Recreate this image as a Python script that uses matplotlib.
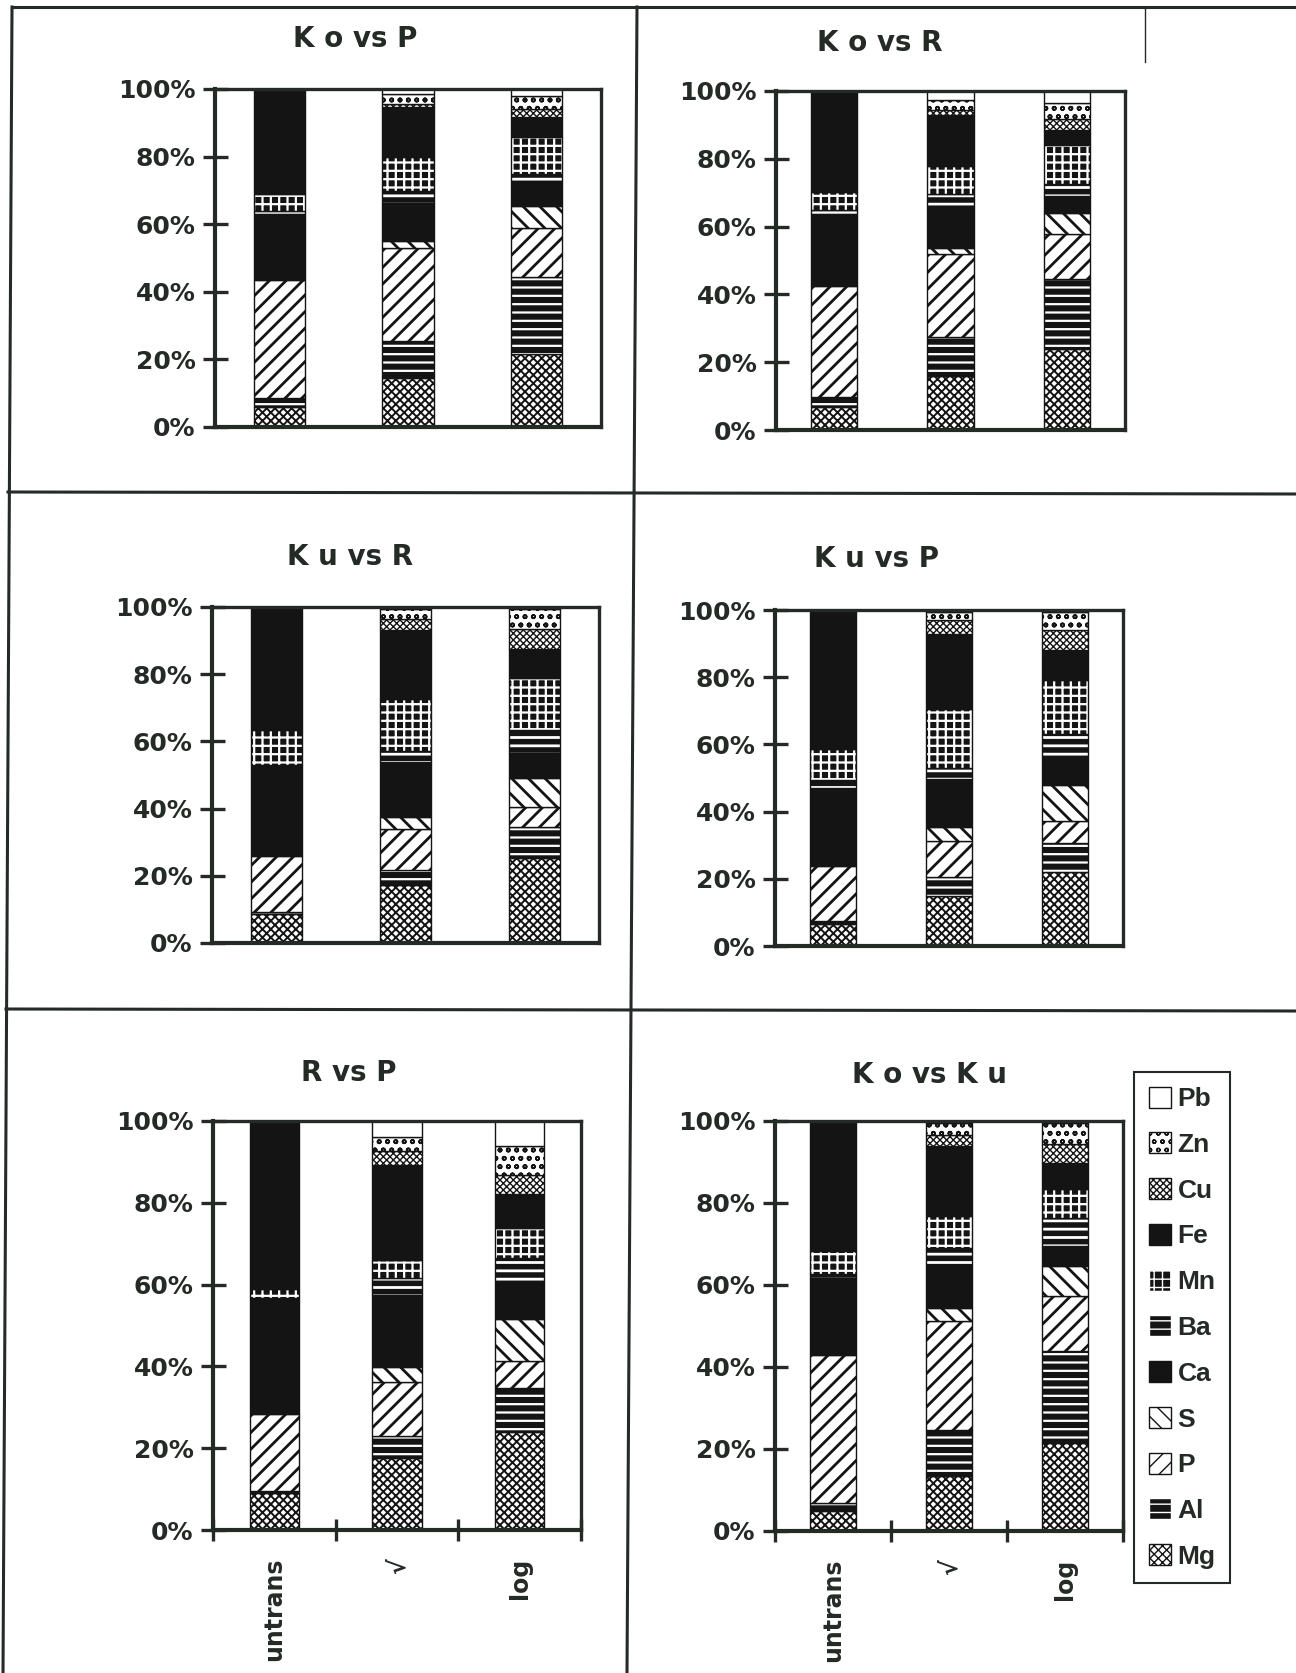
import matplotlib
matplotlib.use('Agg')
import matplotlib.pyplot as plt
from matplotlib.patches import Patch
from matplotlib.lines import Line2D
import numpy as np

W, H = 1296, 1673
INK = '#242a25'
BLK = '#141414'

elements = ['Mg', 'Al', 'P', 'S', 'Ca', 'Ba', 'Mn', 'Fe', 'Cu', 'Zn', 'Pb']
transforms = ['untrans', '√', 'log']

# percentage share of each element, rows = untrans / sqrt / log
ko_vs_p = [[6.0, 2.5, 35.0, 0, 19.5, 1.0, 5.0, 31.0, 0, 0, 0],
           [14.4, 11.1, 27.6, 1.9, 11.4, 3.5, 9.9, 15.0, 0.8, 2.8, 1.6],
           [21.5, 22.9, 14.6, 6.3, 5.9, 3.6, 11.1, 5.7, 2.5, 3.9, 2.0]]
ko_vs_r = [[6.9, 2.9, 32.8, 0, 21.2, 1.2, 5.2, 29.8, 0, 0, 0],
           [16.0, 11.4, 24.6, 1.7, 12.5, 3.5, 8.3, 14.8, 1.7, 2.9, 2.6],
           [23.9, 20.7, 13.3, 6.1, 4.9, 3.7, 11.4, 4.4, 3.2, 4.9, 3.5]]
ku_vs_r = [[8.5, 0.8, 16.7, 0, 25.7, 1.3, 10.5, 36.5, 0, 0, 0],
           [17.3, 4.4, 12.3, 3.5, 16.5, 3.0, 15.5, 20.8, 3.2, 3.0, 0.5],
           [25.3, 9.2, 6.0, 8.5, 7.5, 7.0, 15.5, 8.5, 6.0, 6.0, 0.5]]
ku_vs_p = [[6.5, 0.8, 16.6, 0, 23.2, 2.4, 9.2, 41.3, 0, 0, 0],
           [14.9, 5.5, 10.9, 4.2, 14.3, 3.2, 17.6, 22.4, 4.0, 2.5, 0.5],
           [21.9, 8.9, 6.5, 10.7, 7.2, 7.8, 16.1, 8.9, 6.0, 5.5, 0.5]]
r_vs_p = [[9.1, 0.5, 18.8, 0, 27.3, 1.0, 2.3, 41.0, 0, 0, 0],
          [17.5, 5.4, 13.4, 3.6, 17.6, 4.0, 4.4, 23.4, 3.3, 3.6, 3.8],
          [23.9, 10.7, 6.6, 10.4, 8.1, 6.7, 7.4, 8.4, 4.5, 7.2, 6.1]]
ko_vs_ku = [[4.9, 2.0, 36.1, 0, 18.8, 1.0, 5.5, 31.7, 0, 0, 0],
            [13.5, 11.1, 26.6, 3.3, 10.5, 4.0, 7.8, 17.1, 2.7, 2.9, 0.5],
            [21.4, 22.4, 13.6, 7.3, 4.8, 6.9, 6.9, 6.4, 4.6, 5.2, 0.5]]

# fill, hatch, hatch colour, hatch linewidth per element
styles = {
    'Mg': ('white', 'xxxx', BLK, 1.4),
    'Al': (BLK, '--', 'white', 1.6),
    'P':  ('white', '//', BLK, 2.0),
    'S':  ('white', '\\\\', BLK, 2.0),
    'Ca': (BLK, '', BLK, 1.0),
    'Ba': (BLK, '--', 'white', 2.0),
    'Mn': (BLK, '++', 'white', 1.6),
    'Fe': (BLK, '', BLK, 1.0),
    'Cu': ('white', 'xxxxx', BLK, 1.0),
    'Zn': ('white', 'oo', BLK, 1.2),
    'Pb': ('white', '', BLK, 1.0),
}

plt.rcParams['font.family'] = ['DejaVu Sans']
plt.rcParams['font.weight'] = 'bold'

fig = plt.figure(figsize=(W / 100, H / 100), dpi=100)


def fx(x, y):
    return x / W, 1 - y / H


def add_panel(box, title, title_xy, data, xlabels):
    l, t, r, b = box
    ax = fig.add_axes([l / W, 1 - b / H, (r - l) / W, (b - t) / H])
    x = np.arange(3)
    bottoms = np.zeros(3)
    for k, el in enumerate(elements):
        vals = np.array([row[k] for row in data])
        fc, hatch, hc, hlw = styles[el]
        for i in range(3):
            if vals[i] <= 0:
                continue
            with plt.rc_context({'hatch.linewidth': hlw}):
                ax.bar(x[i], vals[i], bottom=bottoms[i], width=0.4, color=fc,
                       hatch=hatch, edgecolor=hc, linewidth=0)
            ax.bar(x[i], vals[i], bottom=bottoms[i], width=0.4, fill=False,
                   edgecolor=BLK, linewidth=1.0)
        bottoms += vals
    ax.set_xlim(-0.5, 2.5)
    ax.set_ylim(0, 100)
    ax.set_yticks(np.arange(0, 101, 20))
    ax.set_yticklabels([f'{v}%' for v in range(0, 101, 20)])
    ax.tick_params(axis='y', direction='inout', length=18, width=2.4,
                   color=INK, labelsize=18, labelcolor=INK, pad=5)
    if xlabels:
        ax.set_xticks(x)
        ax.set_xticklabels(transforms, rotation=90, fontsize=17, color=INK, va='top')
        ax.tick_params(axis='x', which='major', length=0, pad=20)
        ax.set_xticks([-0.5, 0.5, 1.5, 2.5], minor=True)
        ax.tick_params(axis='x', which='minor', direction='inout', length=16,
                       width=2.4, color=INK)
    else:
        ax.set_xticks([])
    for s in ax.spines.values():
        s.set_linewidth(2.4)
        s.set_color(INK)
    ax.spines['left'].set_linewidth(3)
    ax.spines['bottom'].set_linewidth(3)
    fig.text(*fx(*title_xy), title, ha='center', va='center', fontsize=20,
             color=INK, fontweight='bold')
    return ax


add_panel((215, 89, 601, 427), 'K o vs P', (355, 39), ko_vs_p, False)
add_panel((776, 91, 1125, 430), 'K o vs R', (880, 43), ko_vs_r, False)
add_panel((212, 607, 599, 943), 'K u vs R', (350, 557), ku_vs_r, False)
add_panel((775, 610, 1123, 946), 'K u vs P', (877, 559), ku_vs_p, False)
add_panel((213, 1121, 581, 1530), 'R vs P', (349, 1073), r_vs_p, True)
add_panel((775, 1121, 1123, 1531), 'K o vs K u', (930, 1075), ko_vs_ku, True)

# legend, top entry first
handles = []
for el in reversed(elements):
    fc, hatch, hc, hlw = styles[el]
    with plt.rc_context({'hatch.linewidth': hlw}):
        handles.append(Patch(facecolor=fc, hatch=hatch, edgecolor=hc, linewidth=1.0))
leg = fig.legend(handles, list(reversed(elements)), loc='upper left',
                 bbox_to_anchor=fx(1134, 1072), borderaxespad=0, frameon=True,
                 fancybox=False, framealpha=1, edgecolor=INK, handlelength=0.85,
                 handleheight=0.85, handletextpad=0.25, labelspacing=0.8,
                 borderpad=0.55,
                 prop={'family': ['Liberation Sans Narrow', 'Liberation Sans'],
                       'weight': 'bold', 'size': 19})
leg.get_frame().set_linewidth(1.5)
for txt in leg.get_texts():
    txt.set_color(INK)

# panel dividers and outer frame
lines = [((13, 7), (1296, 7)),
         ((12, 7), (3, 1673)),
         ((637, 7), (627, 1673)),
         ((8, 492), (1296, 494)),
         ((6, 1009), (1296, 1011)),
         ((1145, 7), (1145, 62))]
for (x0, y0), (x1, y1) in lines:
    p0, p1 = fx(x0, y0), fx(x1, y1)
    lw = 1.0 if x0 == 1145 else 2.2
    fig.add_artist(Line2D([p0[0], p1[0]], [p0[1], p1[1]], transform=fig.transFigure,
                          color=INK, linewidth=lw))

fig.savefig('out.png', dpi=100, facecolor='white')
